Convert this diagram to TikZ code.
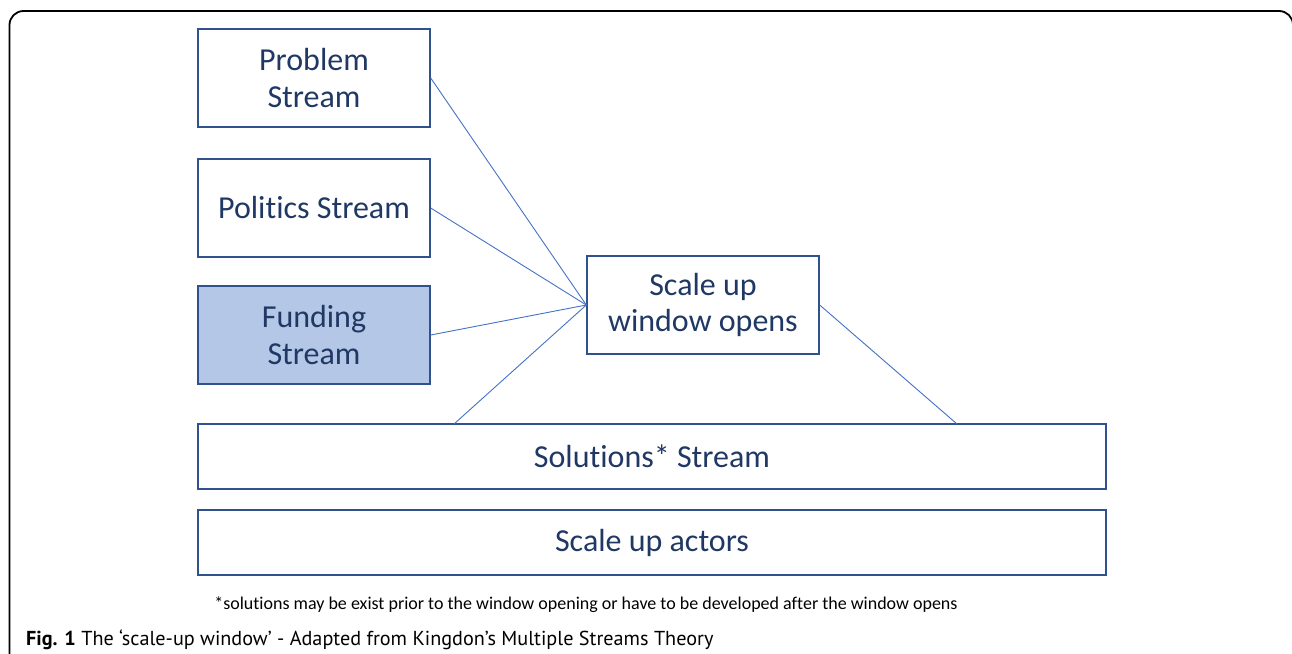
\documentclass[tikz,border=0pt]{standalone}
\usepackage{fontspec}
\setmainfont{Carlito}[RawFeature={-liga;-clig;-calt}]
\newfontfamily\capfont{PT Sans}
\definecolor{boxedge}{HTML}{2F528F}
\definecolor{boxtext}{HTML}{203864}
\definecolor{linkblue}{HTML}{4472C4}
\definecolor{fundfill}{HTML}{B4C7E7}
\newcommand{\tibreak}{\kern0pt}
\tikzset{
  streambox/.style={draw=boxedge, line width=1.4pt, text=boxtext, align=center,
    inner sep=0pt, font=\fontsize{32}{39}\selectfont},
  smallbox/.style={streambox, minimum width=232pt, minimum height=98pt},
  widebox/.style={streambox, minimum width=908pt, minimum height=65pt},
  link/.style={draw=linkblue, line width=0.9pt},
}
\begin{document}
\begin{tikzpicture}[x=1pt, y=-1pt]
\useasboundingbox (0,0) rectangle (1292,653);
\clip (0,0) rectangle (1292,653);
% outer frame
\draw[line width=1.8pt, rounded corners=14pt] (9.5,11) rectangle (1293,690);
% stream boxes
\node[smallbox] (problem) at (314,78) {\raisebox{-2pt}{Problem}\\Stream};
\node[smallbox] (politics) at (314,208) {Polit\tibreak ics Stream};
\node[smallbox, fill=fundfill] (funding) at (314,335) {\raisebox{-2pt}{Funding}\\Stream};
\node[smallbox] (window) at (703,305) {\raisebox{-3pt}{Scale up}\\window opens};
\node[widebox] (solutions) at (652,456.5) {Solut\tibreak ions* Stream};
\node[widebox] (actors) at (652,542.5) {Scale up actors};
% connectors into the window
\coordinate (solin) at (454,424);
\coordinate (solout) at (957,424);
\draw[link] (problem.east) -- (window.west);
\draw[link] (politics.east) -- (window.west);
\draw[link] (funding.east) -- (window.west);
\draw[link] (solin) -- (window.west);
\draw[link] (window.east) -- (solout);
% footnote and caption
\node[font=\fontsize{18}{21}\selectfont, anchor=base] (note) at (586,609) {*solut\tibreak ions may be exist prior to the window opening or have to be developed after the window opens};
\node[font=\capfont\fontsize{20.2}{23}\selectfont, anchor=base west, inner sep=0pt] (caption) at (26,645) {\textbf{Fig. 1} The ‘scale-up window’ - Adapted from Kingdon’s Multiple Streams Theory};
\end{tikzpicture}
\end{document}
